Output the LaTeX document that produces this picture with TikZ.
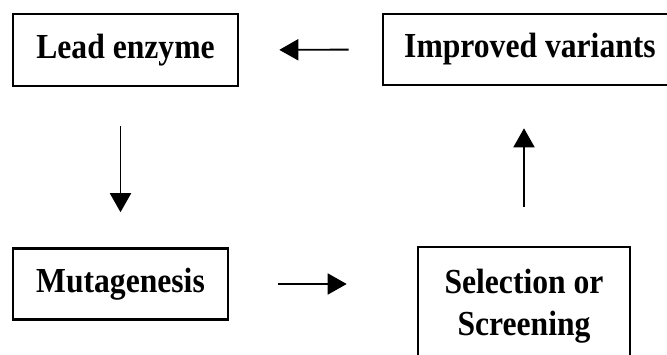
\documentclass[tikz,border=0pt]{standalone}
\usepackage{fontspec}
\setmainfont{Liberation Serif}
\newfontfamily\boxfont[FakeStretch=0.9]{Liberation Serif}
\usetikzlibrary{arrows.meta,positioning}

\begin{document}
\begin{tikzpicture}[x=0.03cm,y=-0.03cm]
    \tikzset{
      rectnode/.style={rectangle,draw=black,line width=2.2pt,inner sep=0pt,font=\boxfont\fontsize{30}{36}\selectfont\bfseries,align=center},
      arrow/.style={-{Triangle[length=0.57cm,width=0.63cm]},line width=1.6pt}
    }
    \useasboundingbox (0,0) rectangle (667,354);
    \node[rectnode,minimum width=6.75cm,minimum height=2.16cm](lead) at (125.5,50){Lead enzyme};
    \node[rectnode,minimum width=8.82cm,minimum height=2.13cm](improved) at (530,49.5){Improved variants};
    \node[rectnode,minimum width=6.45cm,minimum height=2.13cm](mut) at (120.5,284){Mutagenesis};
    \node[rectnode,minimum width=6.36cm,minimum height=3.54cm](sel) at (524,306){Selection or\\Screening};

    \draw[arrow,shorten <=0.99cm,shorten >=1.2cm](improved.west) -- (lead.east);
    \draw[arrow,shorten <=1.17cm,shorten >=1.05cm](lead.south -| mut.north) -- (mut.north);
    \draw[arrow,shorten <=1.47cm,shorten >=2.1cm](mut.east) -- (mut.east -| sel.west);
    \draw[arrow,shorten <=1.17cm,shorten >=1.26cm](sel.north) -- (sel.north |- improved.south);
\end{tikzpicture}
\end{document}
